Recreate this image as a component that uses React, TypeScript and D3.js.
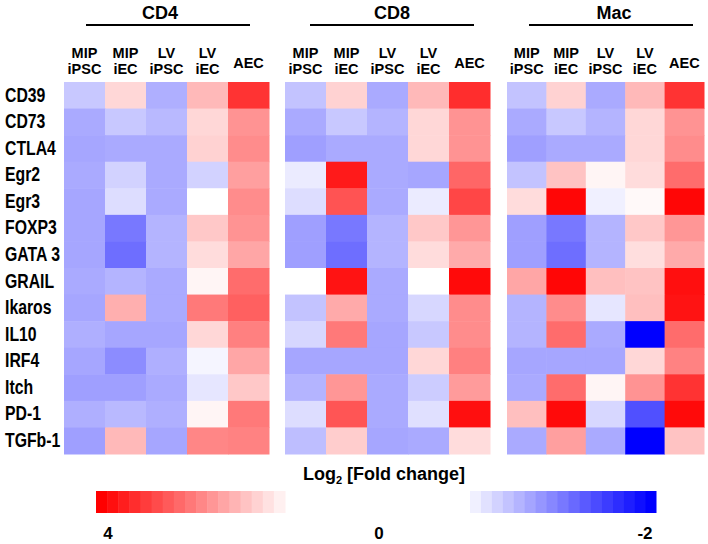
import React from "react";
import * as d3 from "d3";

const rowLabels = ["CD39","CD73","CTLA4","Egr2","Egr3","FOXP3","GATA 3","GRAIL","Ikaros","IL10","IRF4","Itch","PD-1","TGFb-1"];
const colLabels = [["MIP","iPSC"],["MIP","iEC"],["LV","iPSC"],["LV","iEC"],["AEC"]];
const panelNames = ["CD4","CD8","Mac"];

const cd4Values = [
  [-0.43, 0.63, -0.63, 1.1, 3.2],
  [-0.67, -0.43, -0.55, 0.63, 1.7],
  [-0.7, -0.67, -0.67, 0.7, 1.8],
  [-0.67, -0.35, -0.67, -0.35, 1.5],
  [-0.7, -0.27, -0.67, 0, 1.8],
  [-0.7, -1.06, -0.59, 0.86, 1.7],
  [-0.7, -1.14, -0.59, 0.55, 1.4],
  [-0.67, -0.59, -0.67, 0.16, 2.3],
  [-0.7, 1.25, -0.67, 2.1, 2.5],
  [-0.63, -0.7, -0.7, 0.63, 2.0],
  [-0.7, -0.9, -0.63, -0.08, 1.4],
  [-0.75, -0.75, -0.67, -0.2, 0.86],
  [-0.63, -0.55, -0.63, 0.16, 2.1],
  [-0.75, 1.1, -0.7, 1.9, 1.96],
];
const cd8Values = [
  [-0.47, 0.7, -0.67, 1.1, 3.3],
  [-0.67, -0.43, -0.59, 0.63, 1.7],
  [-0.75, -0.67, -0.67, 0.63, 1.7],
  [-0.16, 3.6, -0.67, -0.7, 2.4],
  [-0.27, 2.7, -0.67, -0.16, 2.9],
  [-0.75, -1.06, -0.59, 0.86, 1.65],
  [-0.75, -1.14, -0.59, 0.55, 1.33],
  [0, 3.7, -0.67, 0, 3.85],
  [-0.47, 1.33, -0.67, -0.31, 1.8],
  [-0.31, 2.1, -0.7, -0.43, 1.8],
  [-0.7, -0.7, -0.7, 0.63, 2.0],
  [-0.59, 1.65, -0.67, -0.4, 1.57],
  [-0.27, 2.67, -0.67, -0.24, 3.76],
  [-0.51, 0.78, -0.7, -0.67, 0.55],
];
const macValues = [
  [-0.47, 0.7, -0.67, 1.1, 3.2],
  [-0.67, -0.43, -0.59, 0.63, 1.7],
  [-0.75, -0.67, -0.67, 0.63, 1.8],
  [-0.47, 0.94, 0.16, 0.55, 2.3],
  [0.55, 3.9, -0.12, 0.1, 3.9],
  [-0.75, -1.06, -0.59, 0.86, 1.65],
  [-0.75, -1.14, -0.59, 0.52, 1.33],
  [1.4, 3.9, 1.0, 0.94, 3.76],
  [-0.59, 1.8, -0.2, 1.0, 3.7],
  [-0.59, 2.3, -0.67, -2.0, 2.3],
  [-0.7, -0.7, -0.7, 0.63, 1.96],
  [-0.67, 2.3, 0.16, 1.7, 3.2],
  [1.0, 3.85, -0.31, -1.37, 3.85],
  [-0.67, 1.5, -0.67, -2.0, 0.94],
];
const legendTicks = [4, 0, -2];
const legendSteps = 17;

const FONT = "'Liberation Sans', Arial, Helvetica, sans-serif";

export default function App() {
  const W = 708, H = 544;
  const color = d3.scaleLinear<string>().domain([-2, 0, 4]).range(["#0000ff", "#ffffff", "#ff0000"]).clamp(true);
  const y = d3.scaleBand<string>().domain(rowLabels).range([82, 454]);
  const panelData = [cd4Values, cd8Values, macValues];
  const panelLayout = [
    { x0: 64, x1: 269, line: [86, 250], tx: 160 },
    { x0: 285, x1: 490, line: [310, 474], tx: 392 },
    { x0: 507, x1: 704, line: [529, 693], tx: 614 },
  ];
  const colKeys = colLabels.map((c) => c.join(" "));

  const redSteps = d3.range(legendSteps).map((i) => 4 * (legendSteps - i) / legendSteps);
  const blueSteps = d3.range(legendSteps).map((i) => -2 * (i + 1) / legendSteps);
  const redW = (285 - 96) / legendSteps;
  const blueW = (656 - 470) / legendSteps;
  const tickX = (v: number) => (v > 0 ? 108 : v < 0 ? 645 : 379);

  return (
    <svg width={W} height={H} style={{ position: "absolute", left: 0, top: 0, background: "#fff" }} fontFamily={FONT} fontWeight="bold">
      <rect width={W} height={H} fill="#fff" />
      {panelNames.map((name, p) => {
        const L = panelLayout[p];
        const x = d3.scaleBand<string>().domain(colKeys).range([L.x0, L.x1]);
        return (
          <g key={name}>
            <text x={L.tx} y={19} fontSize={18} textAnchor="middle">{name}</text>
            <line x1={L.line[0]} x2={L.line[1]} y1={25} y2={25} stroke="#000" strokeWidth={2} />
            {colLabels.map((lab, j) => {
              const cx = (x(colKeys[j]) as number) + x.bandwidth() / 2;
              return lab.length === 2 ? (
                <g key={j}>
                  <text x={cx} y={58} fontSize={14.5} textAnchor="middle">{lab[0]}</text>
                  <text x={cx} y={74} fontSize={14.5} textAnchor="middle">{lab[1]}</text>
                </g>
              ) : (
                <text key={j} x={cx} y={68} fontSize={14.5} textAnchor="middle">{lab[0]}</text>
              );
            })}
            {panelData[p].map((row, i) =>
              row.map((v, j) => (
                <rect
                  key={i + "-" + j}
                  x={x(colKeys[j]) as number}
                  y={y(rowLabels[i]) as number}
                  width={x.bandwidth() + 0.5}
                  height={y.bandwidth() + 0.5}
                  fill={color(v)}
                />
              ))
            )}
          </g>
        );
      })}
      {rowLabels.map((r) => (
        <text key={r} transform={`translate(5,${(y(r) as number) + y.bandwidth() / 2 + 6.3}) scale(0.79,1)`} fontSize={20}>
          {r}
        </text>
      ))}
      <text x={384} y={480} fontSize={18} textAnchor="middle">
        Log<tspan fontSize={11} dy={4}>2</tspan><tspan dy={-4}> [Fold change]</tspan>
      </text>
      {redSteps.map((v, i) => (
        <rect key={"r" + i} x={96 + i * redW} y={491} width={redW + 0.5} height={22} fill={color(v)} />
      ))}
      {blueSteps.map((v, i) => (
        <rect key={"b" + i} x={470 + i * blueW} y={491} width={blueW + 0.5} height={22} fill={color(v)} />
      ))}
      {legendTicks.map((t) => (
        <text key={t} x={tickX(t)} y={539} fontSize={17} textAnchor="middle">{t}</text>
      ))}
    </svg>
  );
}
